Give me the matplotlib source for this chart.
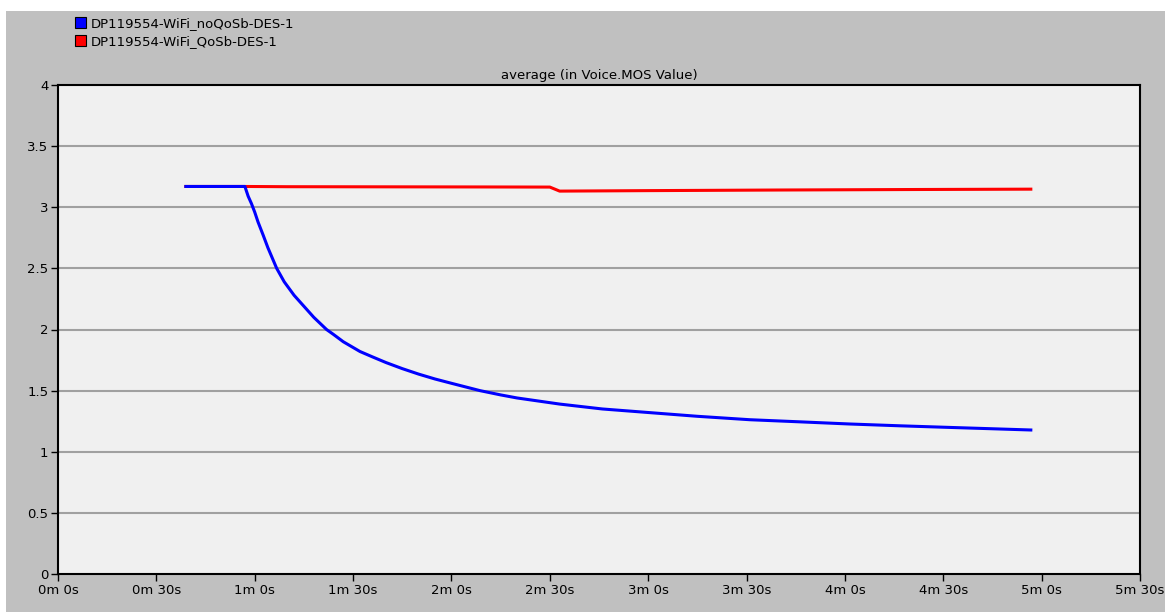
import matplotlib.pyplot as plt
from matplotlib.patches import Patch, Rectangle

# data (time in seconds, MOS value)
noqos_t = [39, 57, 58, 59, 60, 61, 62.6, 64, 66.7, 69, 72, 74, 76, 78, 81.9, 84,
           87, 92.1, 96, 100, 105, 110, 115, 120, 128.7, 135, 140, 153, 166,
           180.5, 195, 211, 226, 241.5, 257, 272, 285, 296.7]
noqos_v = [3.17, 3.17, 3.09, 3.03, 2.96, 2.88, 2.77, 2.67, 2.50, 2.39, 2.28, 2.22,
           2.16, 2.10, 2.00, 1.96, 1.90, 1.82, 1.775, 1.73, 1.68, 1.635, 1.595,
           1.56, 1.50, 1.465, 1.44, 1.39, 1.35, 1.32, 1.29, 1.262, 1.245, 1.227,
           1.212, 1.199, 1.188, 1.178]

qos_t = [39, 57, 70, 100, 130, 150, 153, 180, 220, 260, 296.7]
qos_v = [3.17, 3.17, 3.168, 3.167, 3.166, 3.165, 3.132, 3.136, 3.141, 3.145, 3.148]

labels = ["DP119554-WiFi_noQoSb-DES-1", "DP119554-WiFi_QoSb-DES-1"]
colors = ["#0000ff", "#ff0000"]

yticks = [0, 0.5, 1, 1.5, 2, 2.5, 3, 3.5, 4]
ytick_labels = ["0", "0.5", "1", "1.5", "2", "2.5", "3", "3.5", "4"]
xticks = list(range(0, 331, 30))
xtick_labels = [f"{s // 60}m {s % 60}s" for s in xticks]

plt.rcParams['font.family'] = ['DejaVu Sans']

fig = plt.figure(figsize=(11.65, 6.12), dpi=100, facecolor="white")
# gray panel behind everything
fig.patches.append(Rectangle((6 / 1165, 0), 1 - 6 / 1165, 1 - 11 / 612,
                             transform=fig.transFigure, facecolor="#c0c0c0",
                             edgecolor="none", zorder=-10))

ax = fig.add_axes([58 / 1165, 1 - 574 / 612, 1082 / 1165, 489 / 612])
ax.set_facecolor("#f0f0f0")

ax.plot(qos_t, qos_v, color=colors[1], lw=2.2, zorder=2)
ax.plot(noqos_t, noqos_v, color=colors[0], lw=2.2, zorder=3)

ax.set_xlim(0, 330)
ax.set_ylim(0, 4)
ax.set_yticks(yticks)
ax.set_yticklabels(ytick_labels)
ax.set_xticks(xticks)
ax.set_xticklabels(xtick_labels)
ax.tick_params(axis="both", direction="out", length=5, width=1, color="black",
               labelsize=9.5, pad=2)

for y in yticks[1:-1]:
    ax.axhline(y, color="#a0a0a0", lw=1.5, zorder=1)

for s in ax.spines.values():
    s.set_color("black")
    s.set_linewidth(1.5)

ax.set_title("average (in Voice.MOS Value)", fontsize=9.5, pad=4)

handles = [Patch(facecolor=c, edgecolor="black", lw=0.8) for c in colors]
fig.legend(handles, labels, loc="upper left", bbox_to_anchor=(75 / 1165, 1 - 17 / 612),
           frameon=False, fontsize=9.5, handlelength=0.85, handleheight=0.85,
           handletextpad=0.35, labelspacing=0.4, borderaxespad=0, borderpad=0)

fig.savefig("out.png", dpi=100, facecolor=fig.get_facecolor())
